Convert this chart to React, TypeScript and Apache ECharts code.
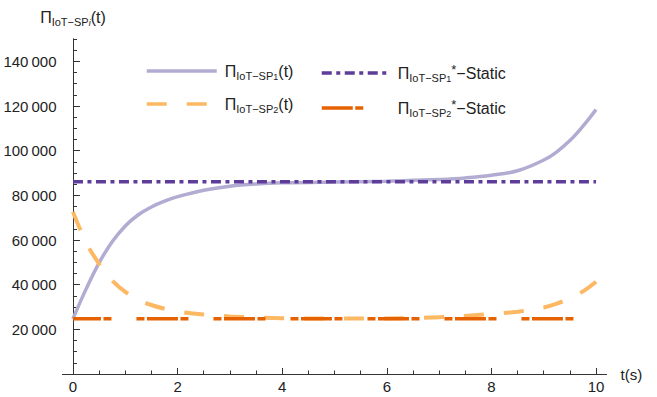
import React, { useEffect, useRef } from "react";
import * as echarts from "echarts";

// ---- data ----
const tValues = [0, 0.25, 0.5, 0.75, 1, 1.25, 1.5, 1.75, 2, 2.5, 3, 3.5, 4, 5, 6, 6.5, 7, 7.5, 8, 8.5, 9, 9.25, 9.5, 9.75, 10];
const sp1Values = [24700, 38000, 49800, 59200, 66300, 71300, 74800, 77400, 79400, 82300, 84100, 85100, 85600, 86000, 86300, 86700, 87100, 87800, 89000, 91000, 95800, 99500, 104500, 111000, 118400];
const sp2Values = [72600, 59000, 49300, 41800, 36800, 33300, 30900, 29200, 28000, 26600, 25800, 25300, 25000, 24800, 24900, 25100, 25400, 26000, 26900, 27900, 29800, 31500, 34000, 37000, 41300];
const staticT = [0, 10];
const sp1StaticValues = [86100, 86100];
const sp2StaticValues = [24700, 24700];

const xMajorTicks = [0, 2, 4, 6, 8, 10];
const xMinorTicks = [0.5, 1, 1.5, 2.5, 3, 3.5, 4.5, 5, 5.5, 6.5, 7, 7.5, 8.5, 9, 9.5];
const yMajorTicks = [20000, 40000, 60000, 80000, 100000, 120000, 140000];
const yMinorTicks = [5000, 10000, 15000, 25000, 30000, 35000, 45000, 50000, 55000, 65000, 70000, 75000, 85000, 90000, 95000, 105000, 110000, 115000, 125000, 130000, 135000, 145000, 150000];

const seriesNames = ["SP1", "SP2", "SP1S", "SP2S"];
const legendLabels: Record<string, string> = {
  SP1: "{m|Π}{s|IoT\u2212SP}{n|1}{m|(t)}",
  SP2: "{m|Π}{s|IoT\u2212SP}{n|2}{m|(t)}",
  SP1S: "{m|Π}{s|IoT\u2212SP}{n|1}{st|*}{m|\u2212Static}",
  SP2S: "{m|Π}{s|IoT\u2212SP}{n|2}{st|*}{m|\u2212Static}",
};
const yAxisTitle = "{m|Π}{s|IoT\u2212SP}{i|i}{m|(t)}";
const xAxisTitle = "t(s)";

const FONT = "'Liberation Sans', Arial, sans-serif";
const TEXT = "#222";
const AXIS = "#333";

const rich = {
  m: { fontSize: 16, fontFamily: FONT, color: TEXT, lineHeight: 20, verticalAlign: "middle" },
  s: { fontSize: 11, fontFamily: FONT, color: TEXT, lineHeight: 13, verticalAlign: "bottom" },
  n: { fontSize: 9, fontFamily: FONT, color: TEXT, lineHeight: 8, verticalAlign: "bottom" },
  i: { fontSize: 9, fontFamily: FONT, fontStyle: "italic", color: TEXT, lineHeight: 8, verticalAlign: "bottom" },
  st: { fontSize: 13, fontFamily: FONT, color: TEXT, lineHeight: 13, verticalAlign: "top" },
};

const pairs = (xs: number[], ys: number[]) => xs.map((x, i) => [x, ys[i]]);
const fmt = (v: number) => String(v).replace(/\B(?=(\d{3})+(?!\d))/g, "\u2009");

const legendCommon = {
  orient: "vertical",
  top: 63,
  padding: 0,
  itemHeight: 14,
  itemGap: 15,
  formatter: (n: string) => legendLabels[n],
  lineStyle: { width: 3.5 },
  itemStyle: { opacity: 0, color: "transparent", borderWidth: 0 },
};

export default function App() {
  const ref = useRef<HTMLDivElement>(null);
  useEffect(() => {
    document.body.style.margin = "0";
    const chart = echarts.init(ref.current!, null, { renderer: "svg" });
    const option: any = {
      animation: false,
      backgroundColor: "#fff",
      grid: { left: 62.5, right: 50.5, top: 39, bottom: 23, containLabel: false, outerBoundsMode: "none" },
      xAxis: [
        {
          type: "value",
          min: -0.2,
          max: 10.2,
          position: "bottom",
          axisLine: { show: true, onZero: true, lineStyle: { color: AXIS, width: 1 } },
          axisTick: { show: true, inside: true, length: 6, customValues: xMajorTicks, lineStyle: { color: AXIS } },
          axisLabel: { show: true, customValues: xMajorTicks, fontSize: 15, fontFamily: FONT, color: TEXT, margin: 5 },
          splitLine: { show: false },
          name: xAxisTitle,
          nameLocation: "end",
          nameGap: 14,
          nameTextStyle: { fontSize: 15, fontFamily: FONT, color: TEXT, verticalAlign: "middle", padding: [0, 0, 3, 0] },
        },
        {
          type: "value",
          min: -0.2,
          max: 10.2,
          position: "bottom",
          axisLine: { show: true, onZero: true, lineStyle: { color: AXIS, width: 1 } },
          axisTick: { show: true, inside: true, length: 3.5, customValues: xMinorTicks, lineStyle: { color: AXIS } },
          axisLabel: { show: false },
          splitLine: { show: false },
        },
      ],
      yAxis: [
        {
          type: "value",
          min: 0,
          max: 150000,
          position: "left",
          axisLine: { show: true, onZero: true, lineStyle: { color: AXIS, width: 1 } },
          axisTick: { show: true, inside: true, length: 7, customValues: yMajorTicks, lineStyle: { color: AXIS } },
          axisLabel: { show: true, customValues: yMajorTicks, formatter: fmt, fontSize: 15, fontFamily: FONT, color: TEXT, margin: 6 },
          splitLine: { show: false },
          name: yAxisTitle,
          nameLocation: "end",
          nameGap: 12,
          nameTextStyle: { rich },
        },
        {
          type: "value",
          min: 0,
          max: 150000,
          position: "left",
          axisLine: { show: true, onZero: true, lineStyle: { color: AXIS, width: 1 } },
          axisTick: { show: true, inside: true, length: 4, customValues: yMinorTicks, lineStyle: { color: AXIS } },
          axisLabel: { show: false },
          splitLine: { show: false },
        },
      ],
      legend: [
        {
          ...legendCommon,
          data: ["SP1", "SP2"],
          left: 145,
          itemWidth: 70,
          textStyle: { rich, padding: [0, 0, 0, 3] },
        },
        {
          ...legendCommon,
          data: ["SP1S", { name: "SP2S", lineStyle: { dashOffset: 0 } }],
          left: 320,
          itemWidth: 66,
          textStyle: { rich, padding: [0, 0, 0, 5] },
        },
      ],
      series: [
        {
          name: seriesNames[0],
          type: "line",
          data: pairs(tValues, sp1Values),
          smooth: 0.4,
          symbol: "none",
          lineStyle: { color: "#b2abd2", width: 3.5 },
          itemStyle: { color: "#b2abd2" },
        },
        {
          name: seriesNames[1],
          type: "line",
          data: pairs(tValues, sp2Values),
          smooth: 0.4,
          symbol: "none",
          lineStyle: { color: "#fdb863", width: 4, type: [20, 20] },
          itemStyle: { color: "#fdb863" },
        },
        {
          name: seriesNames[2],
          type: "line",
          data: pairs(staticT, sp1StaticValues),
          symbol: "none",
          lineStyle: { color: "#5e3c99", width: 3.5, type: [10, 4.5, 4, 4.5] },
          itemStyle: { color: "#5e3c99" },
        },
        {
          name: seriesNames[3],
          type: "line",
          data: pairs(staticT, sp2StaticValues),
          symbol: "none",
          lineStyle: { color: "#e66101", width: 3.5, type: [31, 2.5, 8, 25, 8, 2.5], dashOffset: 3 },
          itemStyle: { color: "#e66101" },
        },
      ],
    };
    chart.setOption(option);
    return () => chart.dispose();
  }, []);
  return <div ref={ref} style={{ width: 657, height: 397 }} />;
}
